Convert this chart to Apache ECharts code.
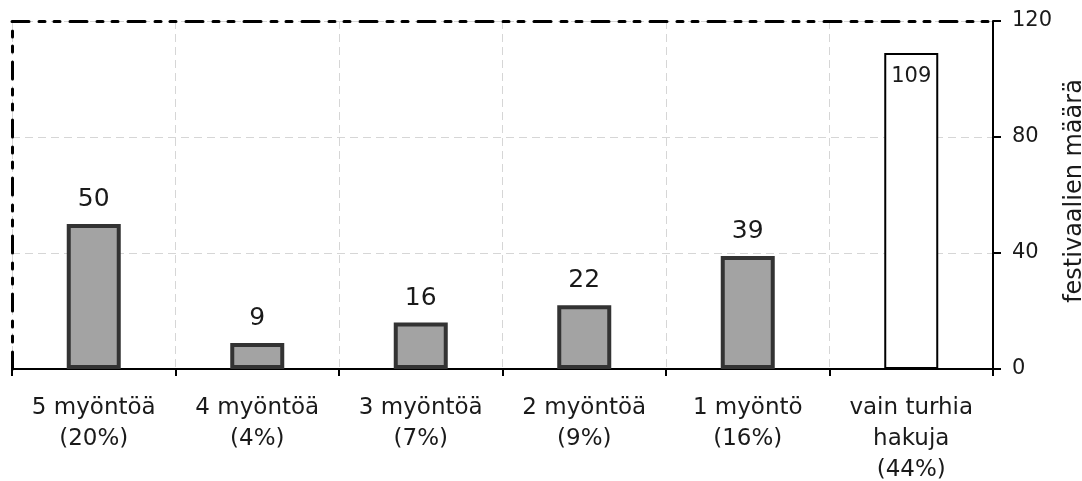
<!DOCTYPE html>
<html>
<head>
<meta charset="utf-8">
<script src="https://cdn.jsdelivr.net/npm/echarts@6/dist/echarts.min.js"></script>
<style>
  html, body { margin: 0; padding: 0; background: #fff; }
  #chart { width: 1082px; height: 481px; }
</style>
</head>
<body>
<div id="chart"></div>
<script>
const categories = ['5 myöntöä\n(20%)', '4 myöntöä\n(4%)', '3 myöntöä\n(7%)', '2 myöntöä\n(9%)', '1 myöntö\n(16%)', 'vain turhia\nhakuja\n(44%)'];
const festivalCounts = [50, 9, 16, 22, 39, 109];
const yTicks = [0, 40, 80, 120];
const axisTitle = 'festivaalien määrä';

const font = 'DejaVu Sans, Verdana, sans-serif';
const dashDot = [17, 10, 6, 9, 6, 10];
const gridLine = { color: '#d6d6d6', type: [8, 5], width: 1 };

// last bar is the white one with its label inside
const barData = festivalCounts.map((v, i) => {
  if (i === festivalCounts.length - 1) {
    return {
      value: v,
      itemStyle: { color: '#ffffff', borderColor: '#000', borderWidth: 2 },
      label: { position: 'insideTop', distance: 13, fontSize: 21 }
    };
  }
  return v;
});

const chart = echarts.init(document.getElementById('chart'));
chart.setOption({
  animation: false,
  grid: { left: 12, right: 89, top: 21, bottom: 112, containLabel: false, outerBoundsMode: 'none' },
  xAxis: [{
    type: 'category',
    data: categories,
    axisLine: { onZero: false, lineStyle: { color: '#000', width: 2 } },
    axisTick: { show: true, length: 7, lineStyle: { color: '#000', width: 2 } },
    axisLabel: { fontFamily: font, fontSize: 23, color: '#1a1a1a', lineHeight: 31, margin: 24 },
    splitLine: { show: true, lineStyle: gridLine }
  }, {
    type: 'value', position: 'top', min: 0, max: 1,
    axisLine: { show: true, onZero: false, lineStyle: { color: '#000', width: 3, type: dashDot } },
    axisTick: { show: false }, axisLabel: { show: false }, splitLine: { show: false }
  }],
  yAxis: [{
    type: 'value',
    position: 'right',
    min: yTicks[0], max: yTicks[yTicks.length - 1], interval: 40,
    name: axisTitle,
    nameLocation: 'middle',
    nameRotate: 90,
    nameGap: 60,
    nameTextStyle: { fontFamily: font, fontSize: 24, color: '#1a1a1a', padding: [0, 0, 0, 8] },
    axisLine: { show: true, onZero: false, lineStyle: { color: '#000', width: 2 } },
    axisTick: { show: true, length: 8, lineStyle: { color: '#000', width: 2 } },
    axisLabel: { fontFamily: font, fontSize: 21, color: '#1a1a1a', margin: 19 },
    splitLine: { show: true, lineStyle: gridLine }
  }, {
    type: 'value', position: 'left', min: 0, max: 1,
    axisLine: { show: true, onZero: false, lineStyle: { color: '#000', width: 3, type: dashDot } },
    axisTick: { show: false }, axisLabel: { show: false }, splitLine: { show: false }
  }],
  series: [{
    type: 'bar',
    data: barData,
    barWidth: 54,
    itemStyle: { color: '#a3a3a3', borderColor: '#333', borderWidth: 4 },
    label: { show: true, position: 'top', distance: 12, fontFamily: font, fontSize: 25, color: '#1a1a1a' }
  }]
});
</script>
</body>
</html>
